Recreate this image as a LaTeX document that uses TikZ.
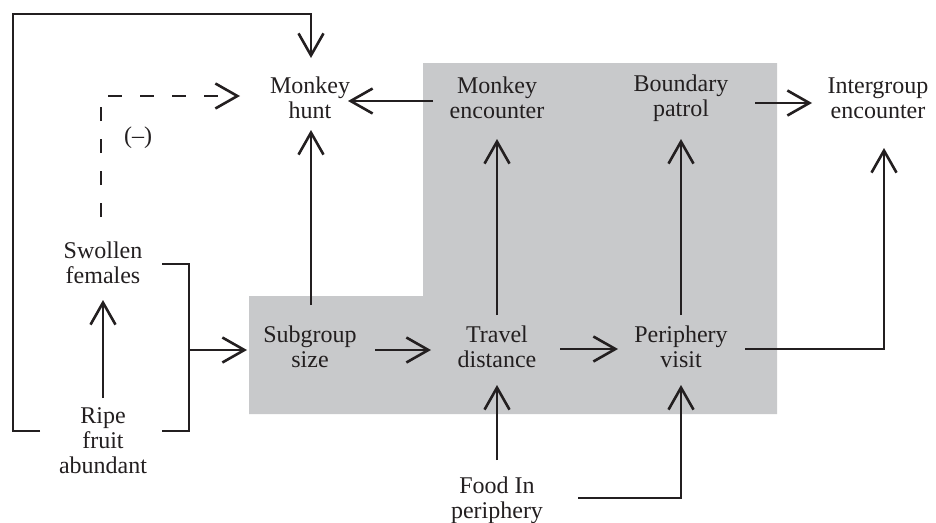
\documentclass[tikz,border=0pt]{standalone}
\usepackage{fontspec}
\setmainfont{Liberation Serif}
\usetikzlibrary{arrows.meta,calc}
\definecolor{ink}{RGB}{35,31,32}
\definecolor{boxgray}{RGB}{200,201,203}
\begin{document}
\begin{tikzpicture}[x=1pt,y=-1pt,
  lbl/.style={align=center,inner sep=0pt,text=ink,font=\fontsize{24}{25}\selectfont},
  ar/.style={draw=ink,line width=2.6pt,-{Straight Barb[length=22pt,width=25pt]}},
  ln/.style={draw=ink,line width=2.6pt}]
\useasboundingbox (0,0) rectangle (936,522);
\fill[fill=boxgray] (423,63) -- (777,63) -- (777,414) -- (249,414) -- (249,296) -- (423,296) -- cycle;
\node[lbl] (hunt) at (310,98) {Monkey\\hunt};
\node[lbl] (menc) at (497,98) {Monkey\\encounter};
\node[lbl] (bpat) at (681,98) {Boundary\\patrol};
\node[lbl] (ienc) at (878,98) {Intergroup\\encounter};
\node[lbl] (swol) at (103,263) {Swollen\\females};
\node[lbl] (ripe) at (103,441) {Ripe\\fruit\\abundant};
\node[lbl] (sub) at (310,347) {Subgroup\\size};
\node[lbl] (trav) at (497,347) {Travel\\distance};
\node[lbl] (peri) at (681,347) {Periphery\\visit};
\node[lbl] (food) at (497,500) {Food In\\periphery};
\node[lbl] (neg) at (138,138) {(–)};
% connectors
\draw[ar] ($(ripe)+(-63,-10)$) -| ($(hunt)+(-297,-84)$) -| ($(hunt)+(1,-40)$);
\draw[ln] ($(ripe)+(59,-10)$) -| ($(swol)+(86,1)$) -- ($(swol)+(59,1)$);
\draw[ar] ($(sub)+(-121,3)$) -- ($(sub)+(-63,3)$);
\draw[ar] ($(ripe)+(0,-43)$) -- ($(swol)+(0,37)$);
\draw[ar,dash pattern=on 14pt off 18pt] ($(swol)+(-2,-46)$) |- ($(hunt)+(-70,-2)$);
\draw[ar] ($(sub)+(1,-42)$) -- ($(hunt)+(1,32)$);
\draw[ar] ($(menc)+(-64,3)$) -- ($(hunt)+(38,3)$);
\draw[ar] ($(trav)+(0,-32)$) -- ($(menc)+(0,41)$);
\draw[ar] ($(peri)+(0,-32)$) -- ($(bpat)+(0,41)$);
\draw[ar] ($(bpat)+(74,5)$) -- ($(ienc)+(-66,5)$);
\draw[ar] ($(peri)+(64,2)$) -| ($(ienc)+(6,50)$);
\draw[ar] ($(sub)+(65,3)$) -- ($(trav)+(-66,3)$);
\draw[ar] ($(trav)+(63,2)$) -- ($(peri)+(-63,2)$);
\draw[ar] ($(food)+(0,-40)$) -- ($(trav)+(0,38)$);
\draw[ar] ($(food)+(81,-2)$) -| ($(peri)+(0,38)$);
\end{tikzpicture}
\end{document}
